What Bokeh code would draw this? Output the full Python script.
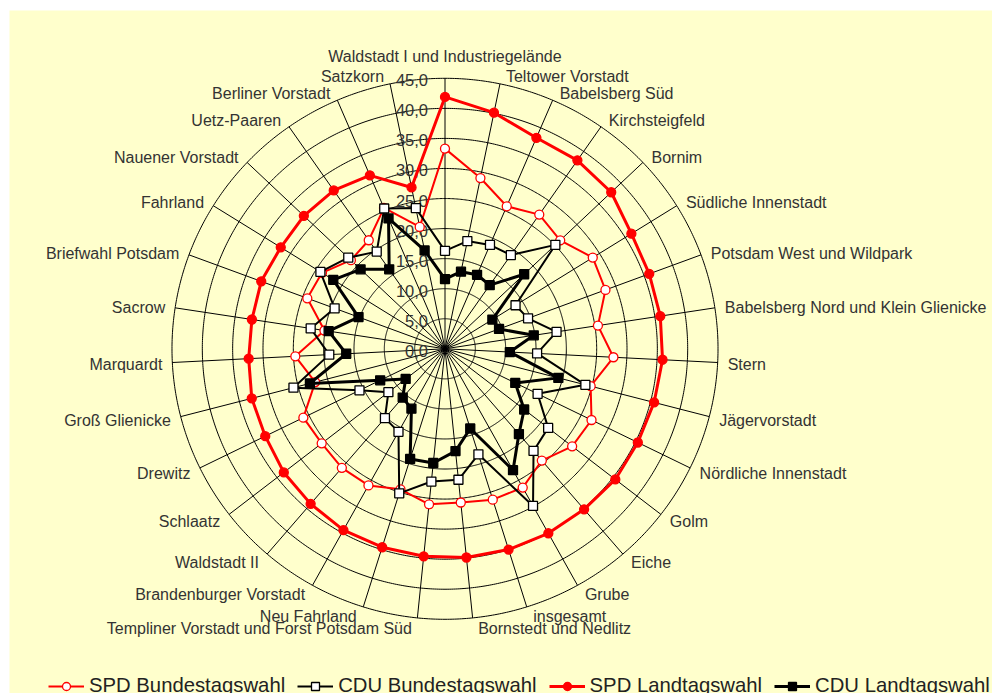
import numpy as np
from bokeh.plotting import figure
from bokeh.models import Range1d, ColumnDataSource, Legend, LegendItem
from bokeh.embed import file_html
from bokeh.resources import INLINE
from bokeh.core.properties import value

categories = [
    "Waldstadt I und Industriegelände", "Teltower Vorstadt", "Babelsberg Süd",
    "Kirchsteigfeld", "Bornim", "Südliche Innenstadt", "Potsdam West und Wildpark",
    "Babelsberg Nord und Klein Glienicke", "Stern", "Jägervorstadt",
    "Nördliche Innenstadt", "Golm", "Eiche", "Grube", "insgesamt",
    "Bornstedt und Nedlitz", "Templiner Vorstadt und Forst Potsdam Süd",
    "Neu Fahrland", "Brandenburger Vorstadt", "Waldstadt II", "Schlaatz",
    "Drewitz", "Groß Glienicke", "Marquardt", "Sacrow", "Briefwahl Potsdam",
    "Fahrland", "Nauener Vorstadt", "Uetz-Paaren", "Berliner Vorstadt", "Satzkorn",
]
spd_bund = [33.3, 29.0, 25.8, 27.2, 26.2, 28.7, 28.2, 25.5, 27.8, 24.8, 26.9,
            26.5, 24.5, 26.4, 26.3, 25.7, 26.0, 24.5, 26.0, 26.1, 25.7, 26.0,
            22.1, 24.7, 20.1, 24.2, 23.9, 21.4, 22.0, 25.5, 20.7]
cdu_bund = [16.3, 18.3, 18.8, 19.0, 25.1, 13.7, 14.6, 18.6, 15.2, 23.9, 17.0,
            21.5, 22.4, 29.9, 18.4, 21.9, 22.2, 25.2, 15.8, 15.2, 11.8, 15.7,
            25.8, 19.1, 22.4, 19.4, 24.2, 22.0, 19.7, 25.4, 23.9]
spd_land = [41.9, 40.1, 38.2, 38.2, 37.8, 36.2, 35.9, 35.9, 35.9, 35.6, 35.4,
            35.5, 35.2, 35.1, 35.0, 34.9, 34.7, 34.6, 34.5, 34.0, 33.6, 33.0,
            32.9, 32.4, 32.2, 32.3, 31.9, 32.1, 32.1, 31.4, 27.4]
cdu_land = [11.6, 13.1, 13.4, 12.9, 18.0, 9.2, 9.5, 14.8, 10.7, 19.3, 12.9,
            16.5, 18.7, 23.1, 13.9, 17.1, 19.1, 19.2, 11.4, 10.7, 8.2, 11.9,
            23.0, 16.3, 19.4, 15.2, 21.7, 19.2, 16.1, 23.6, 16.7]
tick_values = [0, 5, 10, 15, 20, 25, 30, 35, 40, 45]
tick_labels = ["0,0", "5,0", "10,0", "15,0", "20,0", "25,0", "30,0", "35,0", "40,0", "45,0"]
series_names = ["SPD Bundestagswahl", "CDU Bundestagswahl", "SPD Landtagswahl", "CDU Landtagswahl"]

# layout (pixels)
W, H = 992, 693
BL, BT = 9, 10             # white strip left / top
FRAME_W, FRAME_H = W - BL, H - BT
CX, CY = 435.5, 338.3      # centre of radar within the frame
SX, SY = 6.067, 6.011      # pixels per unit
RMAX = 45
FONT = "Liberation Sans"

p = figure(width=W, height=H, output_backend="svg", toolbar_location=None,
           x_range=Range1d(-CX / SX, (FRAME_W - CX) / SX),
           y_range=Range1d(-(FRAME_H - CY) / SY, CY / SY),
           x_axis_location=None, y_axis_location=None,
           min_border_left=BL, min_border_top=BT, min_border_right=0, min_border_bottom=0,
           background_fill_color="#FFFFCC", border_fill_color="white",
           outline_line_color=None)
p.grid.visible = False

n = len(categories)
theta = 2 * np.pi * np.arange(n) / n
s, c = np.sin(theta), np.cos(theta)

# rings
t = np.linspace(0, 2 * np.pi, 721)
ring_xs = [list(r * np.sin(t)) for r in tick_values[1:]]
ring_ys = [list(r * np.cos(t)) for r in tick_values[1:]]
p.multi_line(ring_xs, ring_ys, line_color="black", line_width=1)
# spokes
p.multi_line([[0, RMAX * a] for a in s], [[0, RMAX * b] for b in c],
             line_color="black", line_width=1)

# tick labels
p.text(x=[0] * len(tick_values), y=tick_values, text=tick_labels,
       x_offset=-17, y_offset=2, text_align="right", text_baseline="middle",
       text_font=value(FONT), text_font_size="16.5px", text_color="#333333")

# category labels
aligns, xo, yo = [], [], []
for a, b in zip(s, c):
    if abs(a) < 1e-6:
        aligns.append("center"); xo.append(0); yo.append(-22)
    else:
        aligns.append("left" if a > 0 else "right")
        xo.append((5 + 5 * abs(a)) * (1 if a > 0 else -1))
        yo.append(-9 * b + 1.5)
lab_src = ColumnDataSource(dict(x=RMAX * s, y=RMAX * c, text=categories,
                                align=aligns, xo=xo, yo=yo))
p.text(x="x", y="y", text="text", source=lab_src, text_align="align",
       x_offset="xo", y_offset="yo", text_baseline="middle",
       text_font=value(FONT), text_font_size="16px", text_color="#333333")

styles = [
    dict(color="#FF0000", lw=2, marker="circle", fill="white"),
    dict(color="black", lw=2, marker="square", fill="white"),
    dict(color="#FF0000", lw=3, marker="circle", fill="#FF0000"),
    dict(color="black", lw=3, marker="square", fill="black"),
]
items = []
for name, vals, st in zip(series_names, [spd_bund, cdu_bund, spd_land, cdu_land], styles):
    v = np.array(vals)
    xs, ys = v * s, v * c
    lr = p.line(list(xs) + [xs[0]], list(ys) + [ys[0]], line_color=st["color"],
                line_width=st["lw"])
    sr = p.scatter(xs, ys, marker=st["marker"], size=9, fill_color=st["fill"],
                   line_color=st["color"], line_width=1.3)
    items.append(LegendItem(label=name, renderers=[lr, sr]))

legend = Legend(items=items, orientation="horizontal", location=(39, -4),
                label_text_font=FONT, label_text_font_size="20.3px",
                label_text_color="#222222", glyph_width=36, glyph_height=20,
                label_standoff=5, spacing=12, padding=0, margin=0,
                border_line_color=None, background_fill_alpha=0)
p.add_layout(legend)

open("out.html", "w").write(file_html(p, INLINE))
